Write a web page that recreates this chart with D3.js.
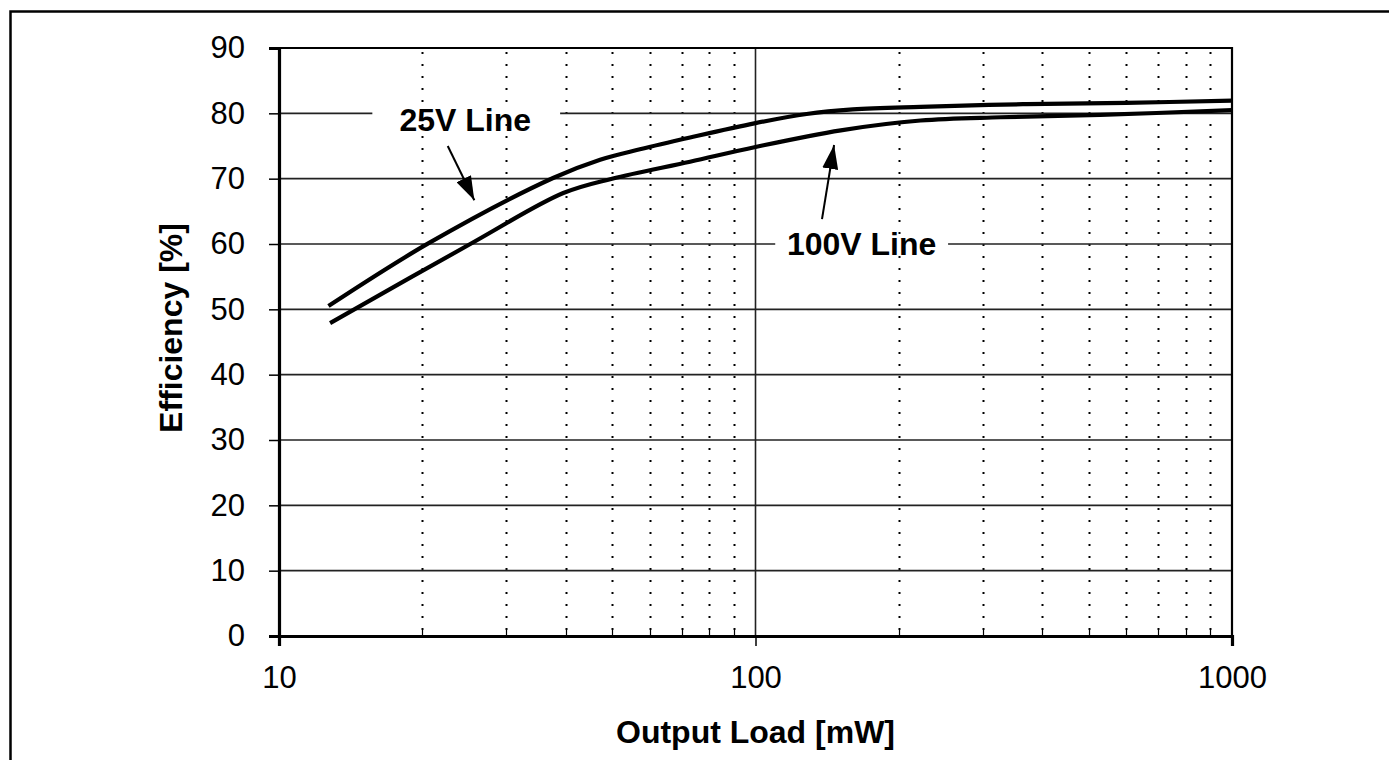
<!DOCTYPE html>
<html>
<head>
<meta charset="utf-8">
<script src="https://cdn.jsdelivr.net/npm/d3@7"></script>
<style>
  body { margin: 0; background: #fff; }
  svg { display: block; font-family: Arial, "Liberation Sans", sans-serif; }
</style>
</head>
<body>
<svg id="chart" width="1389" height="760"></svg>
<script>
// 25V line curve (upper)
const load25 = [12.7, 20.7, 37.6, 47.2, 57.2, 72.9, 100, 128, 160, 222, 364, 600, 1000];
const eff25 = [50.5, 60.2, 70.1, 72.9, 74.5, 76.3, 78.5, 79.9, 80.6, 81.0, 81.4, 81.6, 81.95];

// 100V line curve (lower)
const load100 = [12.8, 25.2, 39.5, 50, 72.9, 100, 151, 222, 327, 529, 1000];
const eff100 = [47.9, 60.0, 67.8, 70.0, 72.6, 74.85, 77.4, 78.9, 79.4, 79.75, 80.5];

const yTicks = [0, 10, 20, 30, 40, 50, 60, 70, 80, 90];
const xMajor = [10, 100, 1000];
const xMinor = [20, 30, 40, 50, 60, 70, 80, 90, 200, 300, 400, 500, 600, 700, 800, 900];

// annotations, in data units
const labels = [
  { text: '25V Line', x: 24.6, y: 80, dy: '0.55em', gap: [15.7, 38.9], from: [22.6, 75.0], to: [25.7, 66.7] },
  { text: '100V Line', x: 167, y: 60, dy: '0.33em', gap: [110, 253.6], from: [137.9, 63.8], to: [146.2, 75.15] },
];

const margin = { top: 48, right: 157, bottom: 124, left: 279 };
const width = 1389;
const height = 760;

const svg = d3.select('#chart');

// outer frame, runs off the right and bottom edge
svg.append('rect')
  .attr('x', 10.5)
  .attr('y', 11.5)
  .attr('width', 1420)
  .attr('height', 800)
  .attr('fill', 'none')
  .attr('stroke', '#000')
  .attr('stroke-width', 2.5);

const x = d3.scaleLog()
  .domain([10, 1000])
  .range([margin.left, width - margin.right]);

const y = d3.scaleLinear()
  .domain([0, 90])
  .range([height - margin.bottom, margin.top]);

// dotted minor gridlines
svg.append('g')
  .selectAll('line')
  .data(xMinor)
  .enter()
  .append('line')
  .attr('x1', d => Math.round(x(d)) + 0.5)
  .attr('x2', d => Math.round(x(d)) + 0.5)
  .attr('y1', y(90) + 4)
  .attr('y2', y(0) - 6)
  .attr('stroke', '#000')
  .attr('stroke-width', 2)
  .attr('stroke-dasharray', '2 10');

// small minor ticks on the x axis
svg.append('g')
  .selectAll('line')
  .data(xMinor)
  .enter()
  .append('line')
  .attr('x1', d => Math.round(x(d)) + 0.5)
  .attr('x2', d => Math.round(x(d)) + 0.5)
  .attr('y1', y(0) - 6)
  .attr('y2', y(0))
  .attr('stroke', '#000')
  .attr('stroke-width', 1.2);

// horizontal gridlines
svg.append('g')
  .selectAll('line')
  .data(yTicks.filter(d => d > 0 && d < 90))
  .enter()
  .append('line')
  .attr('x1', x(10))
  .attr('x2', x(1000))
  .attr('y1', d => y(d))
  .attr('y2', d => y(d))
  .attr('stroke', '#222')
  .attr('stroke-width', 1.6);

// vertical gridline at 100
svg.append('line')
  .attr('x1', x(100))
  .attr('x2', x(100))
  .attr('y1', y(90))
  .attr('y2', y(0))
  .attr('stroke', '#222')
  .attr('stroke-width', 1.6);

// top and right frame of the plot area
svg.append('path')
  .attr('d', `M${x(10)},${y(90)}H${x(1000)}V${y(0)}`)
  .attr('fill', 'none')
  .attr('stroke', '#000')
  .attr('stroke-width', 2.2);

// axes
const yAxis = d3.axisLeft(y)
  .tickValues(yTicks)
  .tickSize(10)
  .tickPadding(24);

const xAxis = d3.axisBottom(x)
  .tickValues(xMajor)
  .tickFormat(d3.format('d'))
  .tickSize(10)
  .tickPadding(20);

const gy = svg.append('g')
  .attr('transform', `translate(${x(10)}, 0)`)
  .call(yAxis);

const gx = svg.append('g')
  .attr('transform', `translate(0, ${y(0)})`)
  .call(xAxis);

[gx, gy].forEach(g => {
  g.select('.domain')
    .attr('stroke', '#000')
    .attr('stroke-width', 3.2);
  g.selectAll('.tick line')
    .attr('stroke', '#000')
    .attr('stroke-width', 1.5);
  g.selectAll('.tick text')
    .attr('fill', '#000')
    .style('font-size', '31px')
    .style('font-family', 'Arial, "Liberation Sans", sans-serif');
});

// gaps behind the annotation labels
svg.append('g')
  .selectAll('rect')
  .data(labels)
  .enter()
  .append('rect')
  .attr('x', d => x(d.gap[0]))
  .attr('width', d => x(d.gap[1]) - x(d.gap[0]))
  .attr('y', d => y(d.y) - 4)
  .attr('height', 8)
  .attr('fill', '#fff');

// curves
const line = d3.line()
  .x(d => x(d[0]))
  .y(d => y(d[1]))
  .curve(d3.curveCatmullRom.alpha(0.5));

const series = [
  d3.zip(load25, eff25),
  d3.zip(load100, eff100),
];

svg.append('g')
  .selectAll('path')
  .data(series)
  .enter()
  .append('path')
  .attr('d', line)
  .attr('fill', 'none')
  .attr('stroke', '#000')
  .attr('stroke-width', 4.2);

// arrows
svg.append('defs')
  .append('marker')
  .attr('id', 'head')
  .attr('viewBox', '0 0 24 16')
  .attr('refX', 24)
  .attr('refY', 8)
  .attr('markerWidth', 24)
  .attr('markerHeight', 16)
  .attr('markerUnits', 'userSpaceOnUse')
  .attr('orient', 'auto')
  .append('path')
  .attr('d', 'M0,0L24,8L0,16Z')
  .attr('fill', '#000');

svg.append('g')
  .selectAll('line')
  .data(labels)
  .enter()
  .append('line')
  .attr('x1', d => x(d.from[0]))
  .attr('y1', d => y(d.from[1]))
  .attr('x2', d => x(d.to[0]))
  .attr('y2', d => y(d.to[1]))
  .attr('stroke', '#000')
  .attr('stroke-width', 2)
  .attr('marker-end', 'url(#head)');

svg.append('g')
  .selectAll('text')
  .data(labels)
  .enter()
  .append('text')
  .attr('x', d => x(d.x))
  .attr('y', d => y(d.y))
  .attr('dy', d => d.dy)
  .attr('text-anchor', 'middle')
  .style('font-size', '32px')
  .style('font-weight', 'bold')
  .text(d => d.text);

// axis titles
svg.append('text')
  .attr('x', x(100))
  .attr('y', 743)
  .attr('text-anchor', 'middle')
  .style('font-size', '32px')
  .style('font-weight', 'bold')
  .text('Output Load [mW]');

svg.append('text')
  .attr('transform', 'rotate(-90)')
  .attr('x', -328)
  .attr('y', 182)
  .attr('text-anchor', 'middle')
  .style('font-size', '32px')
  .style('font-weight', 'bold')
  .text('Efficiency [%]');
</script>
</body>
</html>
